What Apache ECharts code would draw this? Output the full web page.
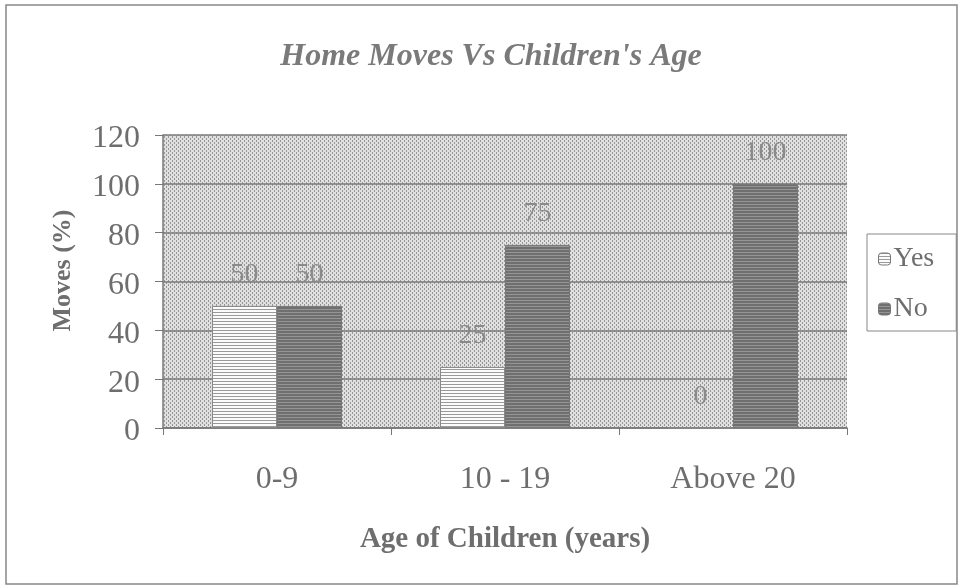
<!DOCTYPE html>
<html><head><meta charset="utf-8">
<script src="https://cdn.jsdelivr.net/npm/echarts@6/dist/echarts.min.js"></script>
<style>html,body{margin:0;padding:0;background:#fff}#c{width:962px;height:588px}</style>
</head><body><div id="c"></div>
<script>
const categories = ['0-9', '10 - 19', 'Above 20'];
const yesValues = [50, 25, 0];
const noValues = [50, 75, 100];
const seriesNames = ['Yes', 'No'];

function makePattern(bg, line, step, dots) {
  const c = document.createElement('canvas');
  c.width = 4; c.height = dots ? 4 : step;
  const g = c.getContext('2d');
  g.fillStyle = bg; g.fillRect(0, 0, c.width, c.height);
  g.fillStyle = line;
  if (dots) { g.fillRect(0, 0, 1, 2); g.fillRect(2, 2, 1, 2); }
  else { g.fillRect(0, 0, c.width, 1); }
  return c;
}
const bgPat = { image: makePattern('#e0e0e0', '#959595', 0, true), repeat: 'repeat' };
const yesPat = { image: makePattern('#fbfbfb', '#9a9a9a', 3, false), repeat: 'repeat' };
const noPat = { image: makePattern('#6f6f6f', '#959595', 3, false), repeat: 'repeat' };

const serif = 'Liberation Serif';
const txt = '#6e6e6e';
const chart = echarts.init(document.getElementById('c'));
chart.setOption({
  animation: false,
  backgroundColor: '#fff',
  title: { text: "Home Moves Vs Children's Age", left: 486, top: 36, textAlign: 'center',
    textStyle: { fontFamily: serif, fontStyle: 'italic', fontWeight: 'bold', fontSize: 32, color: '#7a7a7a' } },
  legend: { orient: 'vertical', left: 867, top: 234, itemWidth: 12, itemHeight: 12, itemGap: 22,
    padding: [11, 22, 8, 11], borderColor: '#888', borderWidth: 1,
    textStyle: { fontFamily: serif, fontSize: 28, color: txt, padding: [0, 0, 0, -2] },
    data: seriesNames.map(n => ({ name: n, itemStyle: { borderColor: '#777', borderWidth: 1 } })) },
  grid: { left: 163, right: 115, top: 135, bottom: 160, show: true, backgroundColor: bgPat, borderWidth: 0 },
  xAxis: { type: 'category', data: categories,
    axisLine: { lineStyle: { color: '#777', width: 1.5 } },
    axisTick: { show: true, length: 7, lineStyle: { color: '#777' } },
    axisLabel: { fontFamily: serif, fontSize: 32, color: txt, margin: 36 },
    name: 'Age of Children (years)', nameLocation: 'middle', nameGap: 97,
    nameTextStyle: { fontFamily: serif, fontWeight: 'bold', fontSize: 29, color: txt } },
  yAxis: { type: 'value', min: 0, max: 120, interval: 20,
    axisLine: { show: true, lineStyle: { color: '#777', width: 1.5 } },
    axisTick: { show: true, length: 8, lineStyle: { color: '#777' } },
    splitLine: { lineStyle: { color: '#7a7a7a', width: 1.5 } },
    axisLabel: { fontFamily: serif, fontSize: 32, color: txt, margin: 23, verticalAlign: 'top', lineHeight: 8 },
    name: 'Moves (%)', nameLocation: 'middle', nameGap: 87,
    nameTextStyle: { fontFamily: serif, fontWeight: 'bold', fontSize: 26, color: txt, padding: [0, 0, 0, 22] } },
  series: [
    { name: seriesNames[0], type: 'bar', data: yesValues, barWidth: 65, barGap: '0%',
      itemStyle: { color: yesPat, borderColor: '#888', borderWidth: 1 },
      label: { show: true, position: 'top', distance: 17, fontFamily: serif, fontSize: 28, color: '#8a8a8a' } },
    { name: seriesNames[1], type: 'bar', data: noValues, barWidth: 65,
      itemStyle: { color: noPat, borderColor: '#777', borderWidth: 1 },
      label: { show: true, position: 'top', distance: 17, fontFamily: serif, fontSize: 28, color: '#8a8a8a' } }
  ],
  graphic: [{ type: 'rect', shape: { x: 6, y: 5, width: 951, height: 579 }, silent: true,
    style: { fill: 'none', stroke: '#888', lineWidth: 1.5 } }]
});
</script></body></html>
